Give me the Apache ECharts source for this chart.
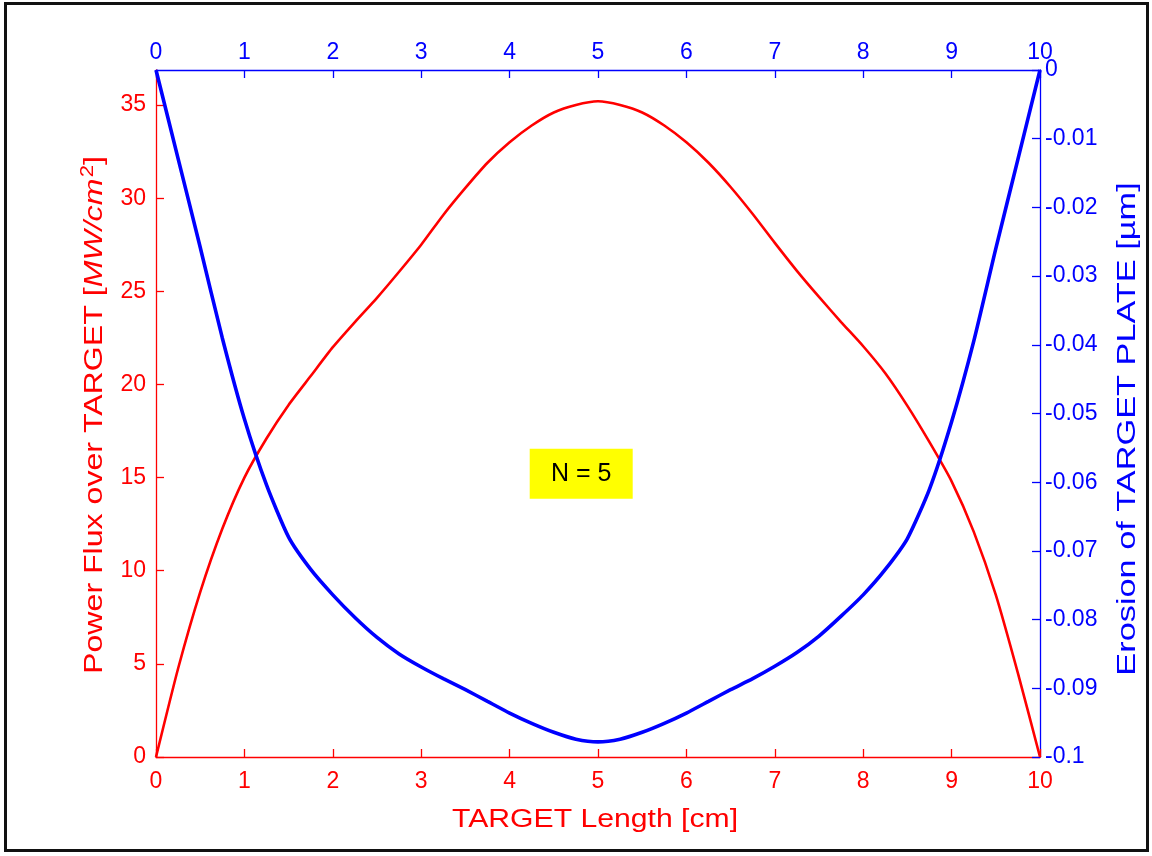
<!DOCTYPE html>
<html>
<head>
<meta charset="utf-8">
<script src="https://cdn.jsdelivr.net/npm/echarts@6/dist/echarts.min.js"></script>
<style>
  html, body { margin: 0; padding: 0; background: #fff; }
  #chart { width: 1152px; height: 856px; }
</style>
</head>
<body>
<div id="chart"></div>
<script>
// Position along the target plate [cm]
const targetLength = [
  0, 0.25, 0.5, 0.75, 1, 1.25, 1.5, 1.75, 2, 2.25,
  2.5, 2.75, 3, 3.25, 3.5, 3.75, 4, 4.25, 4.5, 4.75,
  5, 5.25, 5.5, 5.75, 6, 6.25, 6.5, 6.75, 7, 7.25,
  7.5, 7.75, 8, 8.25, 8.5, 8.75, 9, 9.25, 9.5, 9.75, 10
];

// Power flux over the target [MW/cm^2]
const powerFlux = [
  0, 4.75, 8.85, 12.25, 15.0, 17.1, 18.9, 20.45, 22.0, 23.35,
  24.65, 26.05, 27.5, 29.1, 30.55, 31.9, 33.0, 33.9, 34.6, 35.0,
  35.2, 35.0, 34.6, 33.9, 33.0, 31.9, 30.6, 29.15, 27.6, 26.1,
  24.7, 23.35, 22.05, 20.6, 18.85, 16.9, 14.8, 12.1, 8.7, 4.5, 0
];

// Erosion of the target plate [um]
const erosion = [
  0, -0.0129, -0.0258, -0.0390, -0.0508, -0.0604, -0.0680, -0.0727, -0.0764, -0.0797,
  -0.0826, -0.0850, -0.0869, -0.0886, -0.0902, -0.0919, -0.0936, -0.0951, -0.0964, -0.0974,
  -0.0978, -0.0974, -0.0964, -0.0951, -0.0936, -0.0919, -0.0902, -0.0886, -0.0868, -0.0848,
  -0.0824, -0.0795, -0.0764, -0.0727, -0.0682, -0.0610, -0.0512, -0.0395, -0.0260, -0.0130, 0
];

const fluxTicks = [0, 5, 10, 15, 20, 25, 30, 35];
const annotation = { text: 'N = 5', at: [4.81, 15.2] };
const titles = {
  x: 'TARGET Length [cm]',
  left: 'Power Flux over TARGET [{i|MW/cm}{sup|2}]',
  right: 'Erosion of TARGET PLATE [µm]'
};

const RED = '#ff0000';
const BLUE = '#0000ff';
const FONT = '"Liberation Sans", Arial, sans-serif';

const chart = echarts.init(document.getElementById('chart'), null, { renderer: 'canvas' });

function xAxisCfg(pos, color) {
  return {
    type: 'value', position: pos, min: 0, max: 10, interval: 1,
    axisLine: { show: true, onZero: false, lineStyle: { color: color, width: 1.3 } },
    axisTick: { show: true, inside: true, length: 8, lineStyle: { color: color, width: 1.3 } },
    axisLabel: { color: color, fontFamily: FONT, fontSize: 23, margin: pos === 'top' ? 6 : 13 },
    splitLine: { show: false }
  };
}

// Axis titles: wide-set lettering, stretched along the reading direction
function title(text, x, y, rot, sx, color, rich) {
  return {
    type: 'text', silent: true, z: 50,
    x: x, y: y, rotation: rot, scaleX: sx,
    style: {
      text: text, fill: color, fontFamily: FONT, fontSize: 26,
      align: 'center', verticalAlign: 'middle', rich: rich
    }
  };
}

const option = {
  backgroundColor: '#ffffff',
  animation: false,
  grid: { left: 156, top: 70, width: 884, height: 687, outerBoundsMode: 'none', containLabel: false },
  xAxis: [xAxisCfg('bottom', RED), xAxisCfg('top', BLUE)],
  yAxis: [
    {
      type: 'value', position: 'left', min: 0, max: 36.88,
      axisLine: { show: true, onZero: false, lineStyle: { color: RED, width: 1.3 } },
      axisTick: { show: true, inside: true, length: 8, customValues: fluxTicks, lineStyle: { color: RED, width: 1.3 } },
      axisLabel: { color: RED, fontFamily: FONT, fontSize: 23, margin: 10, customValues: fluxTicks },
      splitLine: { show: false }
    },
    {
      type: 'value', position: 'right', min: -0.1, max: 0, interval: 0.01,
      axisLine: { show: true, onZero: false, lineStyle: { color: BLUE, width: 1.3 } },
      axisTick: { show: true, inside: true, length: 8, lineStyle: { color: BLUE, width: 1.3 } },
      axisLabel: {
        color: BLUE, fontFamily: FONT, fontSize: 23, margin: 5,
        formatter: v => String(+v.toFixed(2))
      },
      splitLine: { show: false }
    }
  ],
  series: [
    {
      name: 'Power Flux', type: 'line', xAxisIndex: 0, yAxisIndex: 0,
      data: targetLength.map((x, i) => [x, powerFlux[i]]),
      showSymbol: false, smooth: 0.2, z: 3,
      lineStyle: { color: RED, width: 2.6 },
      markPoint: {
        symbol: 'rect', symbolSize: [103, 50], silent: true,
        itemStyle: { color: '#ffff00' },
        label: { show: true, color: '#000', fontFamily: FONT, fontSize: 25, formatter: annotation.text },
        data: [{ coord: annotation.at }]
      }
    },
    {
      name: 'Erosion', type: 'line', xAxisIndex: 0, yAxisIndex: 1,
      data: targetLength.map((x, i) => [x, erosion[i]]),
      showSymbol: false, smooth: 0.2, z: 4,
      lineStyle: { color: BLUE, width: 3.6 }
    }
  ],
  graphic: [
    title(titles.x, 595, 820, 0, 1.16, RED),
    title(titles.left, 95, 415, Math.PI / 2, 1.235, RED, {
      i: { fill: RED, fontFamily: FONT, fontSize: 26, fontStyle: 'italic' },
      sup: { fill: RED, fontFamily: FONT, fontSize: 18, verticalAlign: 'bottom', padding: [0, 0, 13, 1] }
    }),
    title(titles.right, 1128, 429, Math.PI / 2, 1.32, BLUE),
    {
      type: 'rect', silent: true, z: 100,
      shape: { x: 5.5, y: 3.5, width: 1142, height: 847 },
      style: { fill: null, stroke: '#111', lineWidth: 3 }
    }
  ]
};

chart.setOption(option);
</script>
</body>
</html>
